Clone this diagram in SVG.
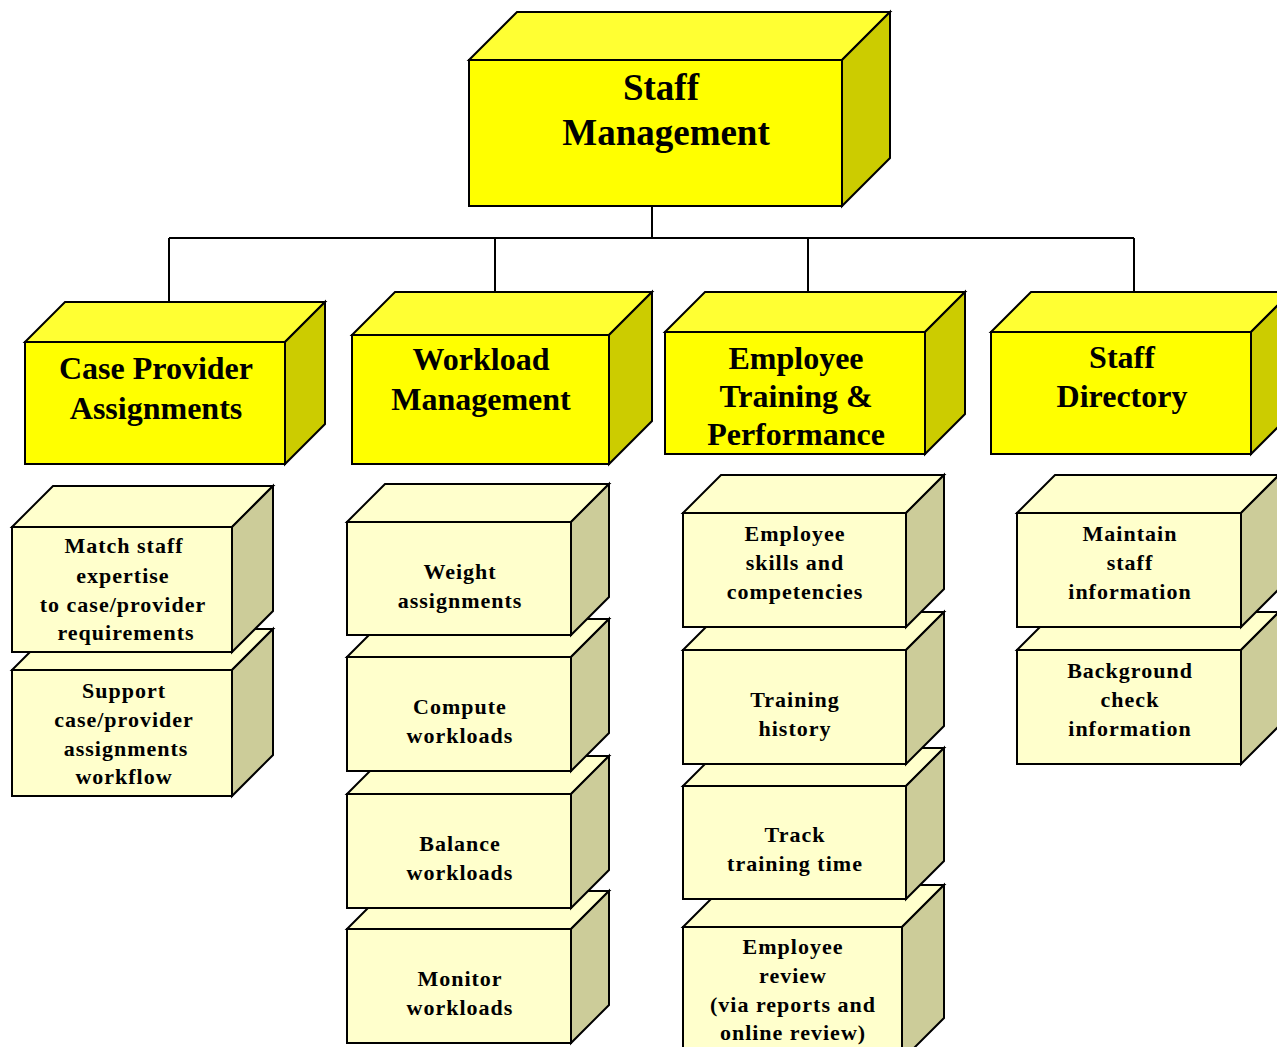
<svg xmlns="http://www.w3.org/2000/svg" width="1277" height="1047" viewBox="0 0 1277 1047">
<style>
.ln{fill:none;stroke:#000;stroke-width:2}
.b polygon,.b rect{stroke:#000;stroke-width:2;stroke-linejoin:miter}
.y .tp{fill:#FFFF33}.y .fr{fill:#FFFF00}.y .sd{fill:#CCCC00}
.l .tp{fill:#FFFFCC}.l .fr{fill:#FFFFCC}.l .sd{fill:#CCCC99}
text{font-family:"Liberation Serif","Times New Roman",serif;font-weight:bold;fill:#000;text-anchor:middle}
.t0{font-size:37px}
.t1{font-size:32px}
.t2{font-size:22px;letter-spacing:1px}
</style>
<rect width="1277" height="1047" fill="#fff"/>
<g id="connectors">
<path class="ln" d="M652,206V238M169,238H1134M169,238V302M495,238V292M808,238V292M1134,238V292"/>
</g>
<g id="staff-management" class="b y">
<polygon class="tp" points="469,60 517,12 890,12 842,60"/>
<polygon class="sd" points="842,60 890,12 890,158 842,206"/>
<rect class="fr" x="469" y="60" width="373" height="146"/>
<text class="t0" x="661" y="100">Staff</text>
<text class="t0" x="666" y="145">Management</text>
</g>
<g id="case-provider" class="b y">
<polygon class="tp" points="25,342 65,302 325,302 285,342"/>
<polygon class="sd" points="285,342 325,302 325,424 285,464"/>
<rect class="fr" x="25" y="342" width="260" height="122"/>
<text class="t1" x="156" y="379">Case Provider</text>
<text class="t1" x="156" y="419">Assignments</text>
</g>
<g id="workload" class="b y">
<polygon class="tp" points="352,335 395,292 652,292 609,335"/>
<polygon class="sd" points="609,335 652,292 652,421 609,464"/>
<rect class="fr" x="352" y="335" width="257" height="129"/>
<text class="t1" x="481" y="370">Workload</text>
<text class="t1" x="481" y="410">Management</text>
</g>
<g id="employee-training" class="b y">
<polygon class="tp" points="665,332 705,292 965,292 925,332"/>
<polygon class="sd" points="925,332 965,292 965,414 925,454"/>
<rect class="fr" x="665" y="332" width="260" height="122"/>
<text class="t1" x="796" y="369">Employee</text>
<text class="t1" x="796" y="407">Training &amp;</text>
<text class="t1" x="796" y="445">Performance</text>
</g>
<g id="staff-directory" class="b y">
<polygon class="tp" points="991,332 1031,292 1291,292 1251,332"/>
<polygon class="sd" points="1251,332 1291,292 1291,414 1251,454"/>
<rect class="fr" x="991" y="332" width="260" height="122"/>
<text class="t1" x="1122" y="368">Staff</text>
<text class="t1" x="1122" y="407">Directory</text>
</g>
<g id="support-workflow" class="b l">
<polygon class="tp" points="12,670 53,629 273,629 232,670"/>
<polygon class="sd" points="232,670 273,629 273,755 232,796"/>
<rect class="fr" x="12" y="670" width="220" height="126"/>
<text class="t2" x="124" y="698">Support</text>
<text class="t2" x="124" y="727">case/provider</text>
<text class="t2" x="126" y="756">assignments</text>
<text class="t2" x="124" y="784">workflow</text>
</g>
<g id="match-staff" class="b l">
<polygon class="tp" points="12,527 53,486 273,486 232,527"/>
<polygon class="sd" points="232,527 273,486 273,611 232,652"/>
<rect class="fr" x="12" y="527" width="220" height="125"/>
<text class="t2" x="124" y="553">Match staff</text>
<text class="t2" x="123" y="583">expertise</text>
<text class="t2" x="123" y="612">to case/provider</text>
<text class="t2" x="126" y="640">requirements</text>
</g>
<g id="monitor-workloads" class="b l">
<polygon class="tp" points="347,929 385,891 609,891 571,929"/>
<polygon class="sd" points="571,929 609,891 609,1005 571,1043"/>
<rect class="fr" x="347" y="929" width="224" height="114"/>
<text class="t2" x="460" y="986">Monitor</text>
<text class="t2" x="460" y="1015">workloads</text>
</g>
<g id="balance-workloads" class="b l">
<polygon class="tp" points="347,794 385,756 609,756 571,794"/>
<polygon class="sd" points="571,794 609,756 609,870 571,908"/>
<rect class="fr" x="347" y="794" width="224" height="114"/>
<text class="t2" x="460" y="851">Balance</text>
<text class="t2" x="460" y="880">workloads</text>
</g>
<g id="compute-workloads" class="b l">
<polygon class="tp" points="347,657 385,619 609,619 571,657"/>
<polygon class="sd" points="571,657 609,619 609,733 571,771"/>
<rect class="fr" x="347" y="657" width="224" height="114"/>
<text class="t2" x="460" y="714">Compute</text>
<text class="t2" x="460" y="743">workloads</text>
</g>
<g id="weight-assignments" class="b l">
<polygon class="tp" points="347,522 385,484 609,484 571,522"/>
<polygon class="sd" points="571,522 609,484 609,597 571,635"/>
<rect class="fr" x="347" y="522" width="224" height="113"/>
<text class="t2" x="460" y="579">Weight</text>
<text class="t2" x="460" y="608">assignments</text>
</g>
<g id="employee-review" class="b l">
<polygon class="tp" points="683,927 725,885 944,885 902,927"/>
<polygon class="sd" points="902,927 944,885 944,1018 902,1060"/>
<rect class="fr" x="683" y="927" width="219" height="133"/>
<text class="t2" x="793" y="954">Employee</text>
<text class="t2" x="793" y="983">review</text>
<text class="t2" x="793" y="1012">(via reports and</text>
<text class="t2" x="793" y="1040">online review)</text>
</g>
<g id="track-training" class="b l">
<polygon class="tp" points="683,786 721,748 944,748 906,786"/>
<polygon class="sd" points="906,786 944,748 944,861 906,899"/>
<rect class="fr" x="683" y="786" width="223" height="113"/>
<text class="t2" x="795" y="842">Track</text>
<text class="t2" x="795" y="871">training time</text>
</g>
<g id="training-history" class="b l">
<polygon class="tp" points="683,650 721,612 944,612 906,650"/>
<polygon class="sd" points="906,650 944,612 944,726 906,764"/>
<rect class="fr" x="683" y="650" width="223" height="114"/>
<text class="t2" x="795" y="707">Training</text>
<text class="t2" x="795" y="736">history</text>
</g>
<g id="employee-skills" class="b l">
<polygon class="tp" points="683,513 721,475 944,475 906,513"/>
<polygon class="sd" points="906,513 944,475 944,589 906,627"/>
<rect class="fr" x="683" y="513" width="223" height="114"/>
<text class="t2" x="795" y="541">Employee</text>
<text class="t2" x="795" y="570">skills and</text>
<text class="t2" x="795" y="599">competencies</text>
</g>
<g id="background-check" class="b l">
<polygon class="tp" points="1017,650 1055,612 1279,612 1241,650"/>
<polygon class="sd" points="1241,650 1279,612 1279,726 1241,764"/>
<rect class="fr" x="1017" y="650" width="224" height="114"/>
<text class="t2" x="1130" y="678">Background</text>
<text class="t2" x="1130" y="707">check</text>
<text class="t2" x="1130" y="736">information</text>
</g>
<g id="maintain-staff" class="b l">
<polygon class="tp" points="1017,513 1055,475 1279,475 1241,513"/>
<polygon class="sd" points="1241,513 1279,475 1279,589 1241,627"/>
<rect class="fr" x="1017" y="513" width="224" height="114"/>
<text class="t2" x="1130" y="541">Maintain</text>
<text class="t2" x="1130" y="570">staff</text>
<text class="t2" x="1130" y="599">information</text>
</g>
</svg>
